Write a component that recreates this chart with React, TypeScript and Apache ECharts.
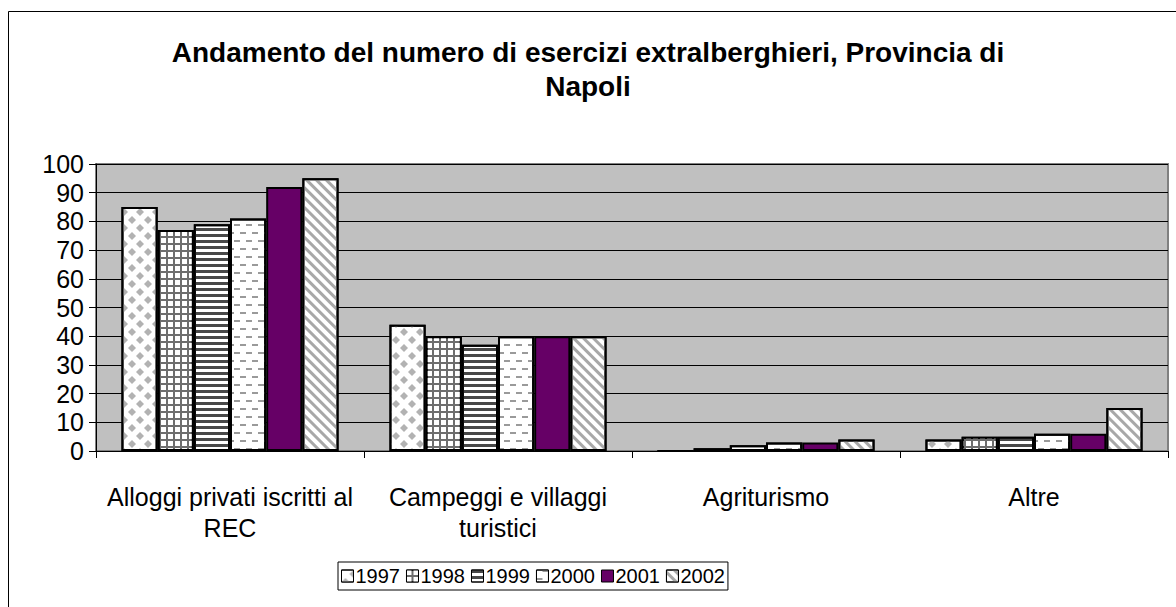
import React, { useEffect, useRef } from "react";
import * as echarts from "echarts";

const titleText = "Andamento del numero di esercizi extralberghieri, Provincia di\nNapoli";
const categories = [
  "Alloggi privati iscritti al\nREC",
  "Campeggi e villaggi\nturistici",
  "Agriturismo",
  "Altre",
];
const years = ["1997", "1998", "1999", "2000", "2001", "2002"];
const v1997 = [85, 44, 0, 4];
const v1998 = [77, 40, 1, 5];
const v1999 = [79, 37, 2, 5];
const v2000 = [81, 40, 3, 6];
const v2001 = [92, 40, 3, 6];
const v2002 = [95, 40, 4, 15];
const yTicks = { min: 0, max: 100, interval: 10 };

const FONT = "'Liberation Sans', Arial, sans-serif";

export default function App() {
  const ref = useRef<HTMLDivElement>(null);
  useEffect(() => {
    if (!ref.current) return;
    const chart = echarts.init(ref.current, undefined, { renderer: "svg" });
    const values = [v1997, v1998, v1999, v2000, v2001, v2002];
    const fills = ["#ffffff", "#6e6e6e", "#ffffff", "#ffffff", "#660066", "#ffffff"];
    const decals: any[] = [
      {
        symbol: "diamond",
        symbolSize: 1,
        symbolKeepAspect: false,
        color: "#b2b2b2",
        dashArrayX: [[8, 8], [0, 8, 8, 0]],
        dashArrayY: [8, 0],
      },
      {
        symbol: "rect",
        symbolSize: 1,
        symbolKeepAspect: false,
        color: "#ffffff",
        dashArrayX: [5, 2],
        dashArrayY: [5, 2],
      },
      {
        symbol: "rect",
        symbolSize: 1,
        symbolKeepAspect: false,
        color: "#484848",
        dashArrayX: [1, 0],
        dashArrayY: [3, 3],
      },
      {
        symbol: "rect",
        symbolSize: 1,
        symbolKeepAspect: false,
        color: "#9a9a9a",
        dashArrayX: [[6, 6], [0, 6, 6, 0]],
        dashArrayY: [2, 6],
      },
      null,
      {
        symbol: "rect",
        symbolSize: 1,
        symbolKeepAspect: false,
        color: "#a8a8a8",
        dashArrayX: [1, 0],
        dashArrayY: [3, 4],
        rotation: Math.PI / 4,
      },
    ];
    const series = years.map((y, i) => {
      const itemStyle: any = {
        color: fills[i],
        borderColor: "#000000",
        borderWidth: 2,
      };
      if (decals[i]) itemStyle.decal = decals[i];
      return {
        name: y,
        type: "bar",
        data: values[i],
        barGap: "0%",
        barCategoryGap: "19%",
        itemStyle,
      };
    });
    chart.setOption({
      animation: false,
      backgroundColor: "#ffffff",
      textStyle: { fontFamily: FONT },
      title: {
        text: titleText,
        left: "center",
        top: 30,
        textStyle: {
          fontFamily: FONT,
          fontSize: 28,
          fontWeight: "bold",
          color: "#000",
          lineHeight: 34,
        },
      },
      graphic: [
        {
          type: "rect",
          shape: { x: 8.5, y: 11.5, width: 1300, height: 700 },
          style: { fill: "none", stroke: "#000", lineWidth: 1 },
          silent: true,
          z: 100,
        },
      ],
      grid: {
        left: 96,
        top: 164,
        width: 1072,
        height: 287,
        show: true,
        backgroundColor: "#c0c0c0",
        borderColor: "#808080",
        borderWidth: 2,
      },
      legend: {
        left: 338,
        top: 562,
        orient: "horizontal",
        itemWidth: 12,
        itemHeight: 12,
        itemGap: 6,
        padding: [4, 3],
        borderColor: "#000",
        borderWidth: 1,
        icon: "rect",
        itemStyle: { borderWidth: 1 },
        textStyle: { fontFamily: FONT, fontSize: 20, color: "#000", padding: [0, 0, 0, -3] },
        data: years,
      },
      xAxis: {
        type: "category",
        data: categories,
        axisLine: { show: true, lineStyle: { color: "#000", width: 1 } },
        axisTick: { show: true, length: 7, lineStyle: { color: "#000" } },
        axisLabel: {
          interval: 0,
          fontFamily: FONT,
          fontSize: 25,
          color: "#000",
          lineHeight: 31,
          margin: 30,
        },
        splitLine: { show: false },
      },
      yAxis: {
        type: "value",
        min: yTicks.min,
        max: yTicks.max,
        interval: yTicks.interval,
        axisLine: { show: true, lineStyle: { color: "#000", width: 1 } },
        axisTick: { show: true, length: 7, lineStyle: { color: "#000" } },
        axisLabel: { fontFamily: FONT, fontSize: 25, color: "#000", margin: 12 },
        splitLine: { show: true, lineStyle: { color: "#000", width: 1 } },
      },
      series,
    });
    return () => chart.dispose();
  }, []);
  return (
    <div
      ref={ref}
      style={{ position: "absolute", left: 0, top: 0, width: 1176, height: 607 }}
    />
  );
}
